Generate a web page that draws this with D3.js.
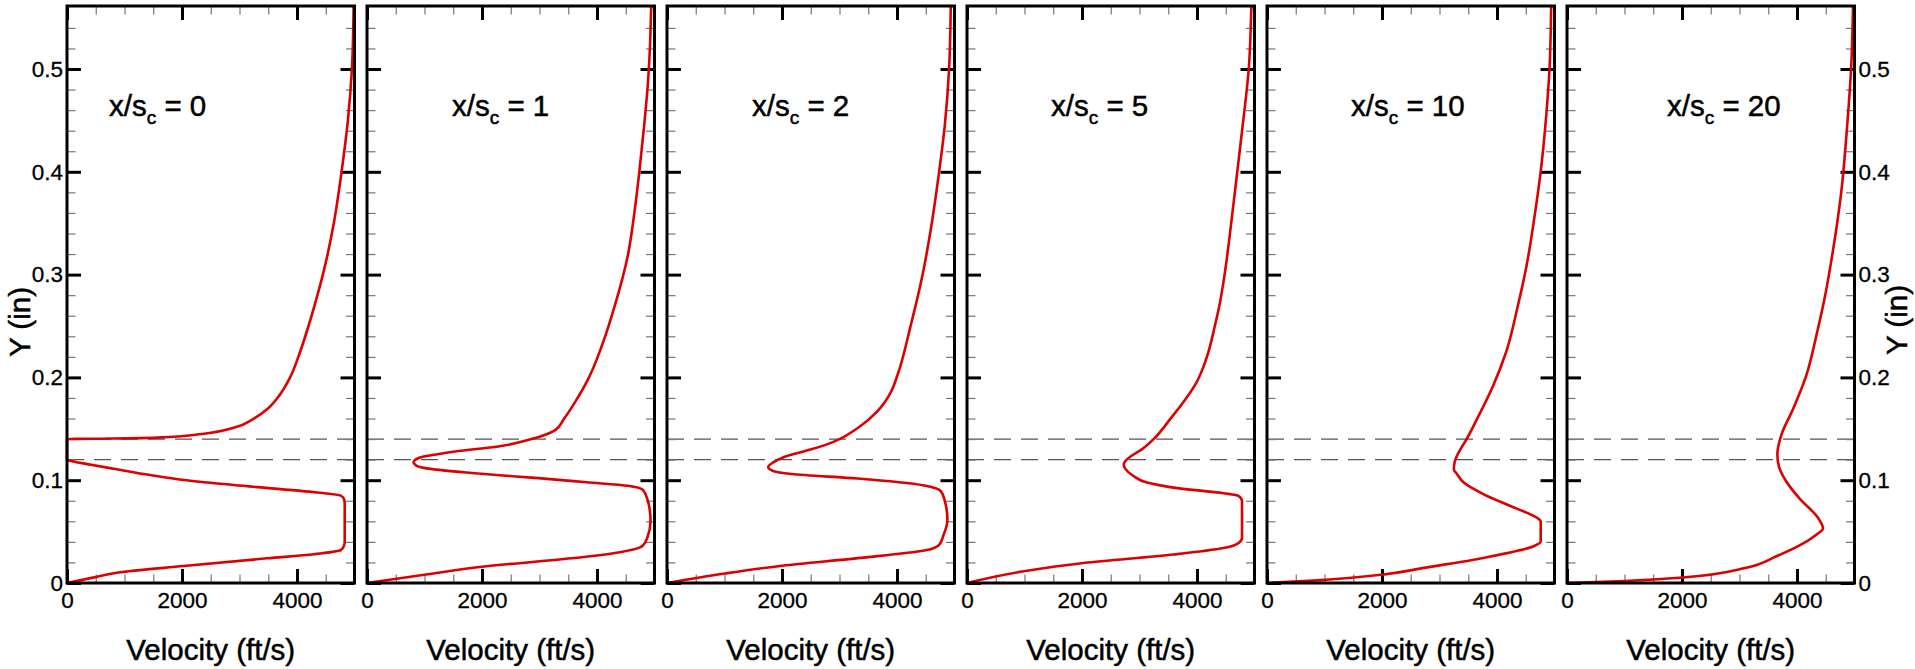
<!DOCTYPE html>
<html>
<head>
<meta charset="utf-8">
<script src="https://cdn.jsdelivr.net/npm/d3@7/dist/d3.min.js"></script>
<style>
  html, body { margin: 0; padding: 0; background: #fff; }
  svg { display: block; }
  text { font-family: "Liberation Sans", Arial, Helvetica, sans-serif; fill: #000; }
</style>
</head>
<body>
<svg id="chart" width="1915" height="669"></svg>
<script>
// ---------------- DATA ----------------
const stations = ["0", "1", "2", "5", "10", "20"];           // x/s_c
const xTickValues = [0, 2000, 4000];
const xMinorValues = [500, 1000, 1500, 2500, 3000, 3500, 4500];
const yTickValues = [0, 0.1, 0.2, 0.3, 0.4, 0.5];
const yTickLabels = ["0", "0.1", "0.2", "0.3", "0.4", "0.5"];
const yMinorValues = [0.02, 0.04, 0.06, 0.08, 0.12, 0.14, 0.16, 0.18, 0.22, 0.24, 0.26, 0.28,
                      0.32, 0.34, 0.36, 0.38, 0.42, 0.44, 0.46, 0.48, 0.52, 0.54];
const slotLines = [0.12, 0.14];                                 // dashed reference lines (in)
const xTitle = "Velocity (ft/s)";
const yTitle = "Y (in)";

// x/s_c = 0
const y_s0 = [0, 0.005, 0.010, 0.0165, 0.024, 0.028, 0.032, 0.036, 0.040, 0.060, 0.0775, 0.082, 0.085, 0.088,
              0.0953, 0.1002, 0.105, 0.1106, 0.1150, 0.1190, 0.1200, 0.1300, 0.1400, 0.1405, 0.1418, 0.145,
              0.151, 0.160, 0.170, 0.183, 0.200, 0.225, 0.250, 0.275, 0.300, 0.350, 0.400, 0.450, 0.500, 0.561];
const v_s0 = [0, 430, 867, 2028, 3482, 4295, 4760, 4815, 4830, 4830, 4830, 4815, 4760, 4354,
              2900, 2028, 1447, 867, 420, 52, 0, 0, 0, 800, 1700, 2350,
              2900, 3250, 3500, 3700, 3880, 4055, 4200, 4330, 4450, 4640, 4775, 4885, 4955, 4985];
// x/s_c = 1
const y_s1 = [0, 0.008, 0.0158, 0.024, 0.030, 0.0344, 0.0365, 0.045, 0.0606, 0.072, 0.080, 0.0905, 0.0946,
              0.098, 0.102, 0.107, 0.111, 0.1145, 0.1174, 0.1216, 0.125, 0.128, 0.1328, 0.140, 0.1485,
              0.160, 0.1755, 0.198, 0.23, 0.269, 0.319, 0.36, 0.402, 0.445, 0.485, 0.52, 0.561];
const v_s1 = [0, 1000, 1994, 3555, 4400, 4740, 4798, 4880, 4931, 4915, 4884, 4798, 4537,
              3820, 2977, 1821, 1100, 850, 809, 896, 1200, 1532, 2283, 2861, 3266,
              3430, 3613, 3844, 4080, 4306, 4538, 4650, 4740, 4820, 4884, 4920, 4942];
// x/s_c = 2
const y_s2 = [0, 0.0093, 0.0168, 0.0242, 0.0316, 0.0372, 0.0465, 0.0614, 0.080, 0.0894, 0.0949, 0.1016,
              0.1061, 0.109, 0.1128, 0.1173, 0.1229, 0.130, 0.1378, 0.1508, 0.1675, 0.186, 0.2029,
              0.2513, 0.2997, 0.3444, 0.4002, 0.4449, 0.50, 0.561];
const v_s2 = [0, 1010, 2003, 3319, 4473, 4733, 4808, 4877, 4831, 4762, 4473, 3319,
              2165, 1847, 1760, 1847, 2049, 2511, 2915, 3319, 3665, 3896, 4012,
              4242, 4444, 4589, 4733, 4831, 4906, 4935];
// x/s_c = 5
const y_s5 = [0, 0.0114, 0.0195, 0.0277, 0.034, 0.039, 0.044, 0.0798, 0.0847, 0.0873, 0.0928, 0.0977,
              0.104, 0.111, 0.1156, 0.119, 0.124, 0.130, 0.140, 0.1596, 0.178, 0.195, 0.210, 0.225,
              0.250, 0.270, 0.300, 0.350, 0.400, 0.450, 0.500, 0.561];
const v_s5 = [0, 986, 2029, 3594, 4464, 4725, 4783, 4783, 4725, 4464, 3594, 3130,
              2899, 2754, 2725, 2760, 2870, 3040, 3246, 3536, 3790, 3990, 4110, 4200,
              4310, 4390, 4480, 4595, 4700, 4805, 4900, 4945];
// x/s_c = 10
const y_s10 = [0, 0.0026, 0.0081, 0.0147, 0.0244, 0.0358, 0.0407, 0.060, 0.0635, 0.0726, 0.0863, 0.0977,
               0.1059, 0.1107, 0.118, 0.125, 0.133, 0.1396, 0.1596, 0.1917, 0.2252, 0.270, 0.3071, 0.3593,
               0.4002, 0.456, 0.50, 0.561];
const v_s10 = [0, 879, 2006, 2728, 3769, 4636, 4760, 4760, 4694, 4335, 3769, 3422,
               3306, 3249, 3265, 3315, 3395, 3468, 3653, 3931, 4162, 4364, 4509, 4660,
               4760, 4858, 4913, 4942];
// x/s_c = 20
const y_s20 = [0, 0.002, 0.0054, 0.0149, 0.026, 0.0365, 0.047, 0.053, 0.0634, 0.082, 0.0987, 0.113,
               0.1256, 0.144, 0.169, 0.202, 0.244, 0.277, 0.318, 0.381, 0.443, 0.505, 0.561];
const v_s20 = [0, 1000, 2017, 3119, 3641, 4046, 4336, 4452, 4365, 4046, 3814, 3687,
               3658, 3728, 3930, 4162, 4350, 4480, 4610, 4771, 4870, 4945, 4974];

const profilesY = [y_s0, y_s1, y_s2, y_s5, y_s10, y_s20];
const profilesV = [v_s0, v_s1, v_s2, v_s5, v_s10, v_s20];

// ---------------- LAYOUT ----------------
const firstLeft = 67, step = 300, panelW = 287.5;
const panelTop = 6, panelBottom = 583;
const labelOffsets = [42, 85, 85, 84, 84, 100];   // annotation x offset inside each panel
const labelBaseline = 116;

const svg = d3.select("#chart");
const y = d3.scaleLinear().domain([0, 0.5613]).range([panelBottom, panelTop]);

stations.forEach((st, i) => {
  const left = firstLeft + i * step;
  const right = left + panelW;
  const x = d3.scaleLinear().domain([0, 5000]).range([left, right]);
  const g = svg.append("g");

  // dashed reference lines
  g.selectAll("line.slot").data(slotLines).enter().append("line")
    .attr("class", "slot")
    .attr("x1", left).attr("x2", right)
    .attr("y1", d => y(d)).attr("y2", d => y(d))
    .attr("stroke", "#555").attr("stroke-width", 1.1)
    .attr("stroke-dasharray", "17,10");

  // minor ticks
  const minorStyle = sel => {
    sel.select(".domain").remove();
    sel.selectAll(".tick line").attr("stroke", "#777").attr("stroke-width", 1.2);
    sel.selectAll(".tick text").remove();
  };
  g.append("g").attr("transform", `translate(0,${panelBottom})`)
    .call(d3.axisBottom(x).tickValues(xMinorValues).tickSize(-8.5)).call(minorStyle);
  g.append("g").attr("transform", `translate(0,${panelTop})`)
    .call(d3.axisTop(x).tickValues(xMinorValues).tickSize(-8.5)).call(minorStyle);
  g.append("g").attr("transform", `translate(${left},0)`)
    .call(d3.axisLeft(y).tickValues(yMinorValues).tickSize(-8.5)).call(minorStyle);
  g.append("g").attr("transform", `translate(${right},0)`)
    .call(d3.axisRight(y).tickValues(yMinorValues).tickSize(-8.5)).call(minorStyle);

  // major ticks
  const majorStyle = sel => {
    sel.select(".domain").remove();
    sel.selectAll(".tick line").attr("stroke", "#000").attr("stroke-width", 3);
    sel.selectAll(".tick text").attr("font-size", 22.5).attr("fill", "#000")
      .attr("stroke", "#000").attr("stroke-width", 0.3)
      .attr("font-family", '"Liberation Sans", Arial, sans-serif');
  };
  g.append("g").attr("transform", `translate(0,${panelBottom})`)
    .call(d3.axisBottom(x).tickValues(xTickValues).tickSize(-14).tickPadding(9.5).tickFormat(d3.format("d")))
    .call(majorStyle);
  g.append("g").attr("transform", `translate(0,${panelTop})`)
    .call(d3.axisTop(x).tickValues(xTickValues).tickSize(-14).tickFormat(""))
    .call(majorStyle);
  g.append("g").attr("transform", `translate(${left},0)`)
    .call(d3.axisLeft(y).tickValues(yTickValues).tickSize(-14).tickPadding(4)
      .tickFormat((d, k) => i === 0 ? yTickLabels[k] : ""))
    .call(majorStyle);
  g.append("g").attr("transform", `translate(${right},0)`)
    .call(d3.axisRight(y).tickValues(yTickValues).tickSize(-14).tickPadding(4)
      .tickFormat((d, k) => i === stations.length - 1 ? yTickLabels[k] : ""))
    .call(majorStyle);

  // profile curve
  const pts = profilesY[i].map((yy, k) => [profilesV[i][k], yy]);
  const line = d3.line().x(d => x(d[0])).y(d => y(d[1])).curve(d3.curveMonotoneY);
  g.append("path").datum(pts)
    .attr("d", line)
    .attr("fill", "none").attr("stroke", "#dd0000").attr("stroke-width", 2.6)
    .attr("stroke-linejoin", "round");

  // frame
  g.append("rect").attr("x", left).attr("y", panelTop)
    .attr("width", panelW).attr("height", panelBottom - panelTop)
    .attr("fill", "none").attr("stroke", "#000").attr("stroke-width", 3);

  // station annotation
  const t = g.append("text").attr("x", left + labelOffsets[i]).attr("y", labelBaseline)
    .attr("font-size", 29.5).attr("stroke", "#000").attr("stroke-width", 0.5);
  t.append("tspan").text("x/s");
  t.append("tspan").attr("font-size", 19).attr("dy", 8).text("c");
  t.append("tspan").attr("dy", -8).text(" = " + st);

  // x-axis title
  g.append("text").attr("x", (left + right) / 2).attr("y", 660)
    .attr("text-anchor", "middle").attr("font-size", 29.5)
    .attr("stroke", "#000").attr("stroke-width", 0.5).text(xTitle);
});

// y-axis titles
svg.append("text").attr("transform", "translate(30,322) rotate(-90)")
  .attr("text-anchor", "middle").attr("font-size", 29.5)
  .attr("stroke", "#000").attr("stroke-width", 0.5).text(yTitle);
svg.append("text").attr("transform", "translate(1907,320) rotate(-90)")
  .attr("text-anchor", "middle").attr("font-size", 29.5)
  .attr("stroke", "#000").attr("stroke-width", 0.5).text(yTitle);
</script>
</body>
</html>
